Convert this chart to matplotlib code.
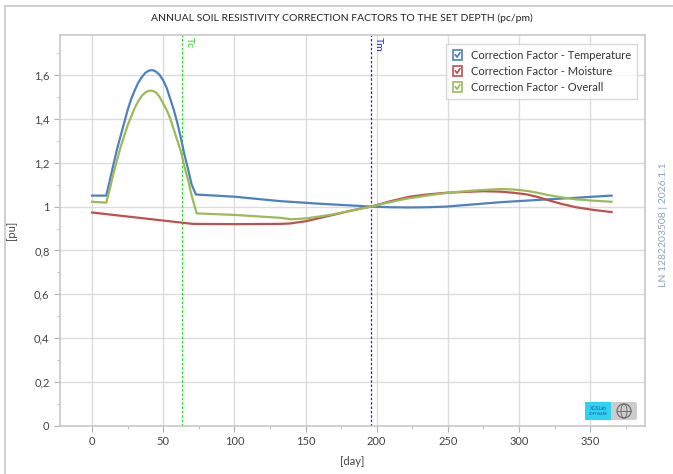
import numpy as np
import matplotlib
matplotlib.use("Agg")
import matplotlib.pyplot as plt
from matplotlib.patches import Rectangle, FancyBboxPatch, Ellipse
from matplotlib.lines import Line2D
from matplotlib.legend_handler import HandlerBase
from matplotlib.ticker import MultipleLocator, FuncFormatter

# values
temp_days = [0, 10, 12.5, 15, 17.5, 20, 22.5, 25, 27.5, 30, 32.5, 35, 37.5, 40, 42.5,
             45, 47.5, 50, 52.5, 55, 57.5, 60, 62.5, 65, 67.5, 70, 73,
             100, 132, 160, 196, 210, 223, 236, 249, 268, 287, 305, 320, 340, 352, 365]
temp_vals = [1.05, 1.05, 1.12, 1.19, 1.26, 1.32, 1.38, 1.44, 1.49, 1.53, 1.565, 1.59,
             1.61, 1.62, 1.622, 1.615, 1.60, 1.575, 1.54, 1.49, 1.44, 1.38, 1.31, 1.235,
             1.17, 1.10, 1.055, 1.045, 1.025, 1.013, 1.0, 0.997, 0.996, 0.997, 1.0, 1.01,
             1.02, 1.027, 1.033, 1.04, 1.045, 1.05]

moist_days = [0, 71, 100, 132, 139, 150, 160, 170, 179, 188, 196, 210, 223, 235, 249,
              262, 275, 287, 296, 305, 313, 320, 330, 340, 352, 365]
moist_vals = [0.973, 0.921, 0.92, 0.921, 0.923, 0.933, 0.948, 0.963, 0.977, 0.99, 1.0,
              1.025, 1.045, 1.055, 1.063, 1.067, 1.07, 1.068, 1.063, 1.056, 1.044, 1.03,
              1.012, 0.997, 0.985, 0.975]

overall_days = [0, 10, 12.5, 15, 17.5, 20, 22.5, 25, 27.5, 30, 32.5, 35, 37.5, 40, 42.5,
                45, 47.5, 50, 52.5, 55, 57.5, 60, 62.5, 65, 67.5, 70, 73.5,
                100, 132, 140, 150, 160, 167, 179, 188, 196, 208, 220, 235, 250, 268,
                287, 296, 305, 313, 320, 330, 340, 352, 365]
overall_vals = [1.022, 1.018, 1.08, 1.15, 1.21, 1.27, 1.32, 1.37, 1.41, 1.45, 1.48, 1.505,
                1.52, 1.528, 1.528, 1.52, 1.50, 1.47, 1.44, 1.40, 1.35, 1.30, 1.25, 1.18,
                1.12, 1.05, 0.969, 0.962, 0.949, 0.942, 0.946, 0.955, 0.962, 0.977, 0.989,
                1.0, 1.018, 1.035, 1.05, 1.063, 1.073, 1.08, 1.078, 1.072, 1.063, 1.053,
                1.042, 1.033, 1.027, 1.022]

tc_day = 63.5
tm_day = 196

labels = ["Correction Factor - Temperature", "Correction Factor - Moisture",
          "Correction Factor - Overall"]
colors = ["#4f81bd", "#c0504d", "#9bbb59"]

plt.rcParams['font.family'] = ['Lato', 'DejaVu Sans']

fig = plt.figure(figsize=(6.73, 4.74), dpi=100)
ax = fig.add_axes([60/673, 1-426/474, 585/673, 391/474])

for d, v, c, lab in zip([temp_days, moist_days, overall_days],
                        [temp_vals, moist_vals, overall_vals], colors, labels):
    ax.plot(d, v, color=c, lw=1.6, label=lab, solid_joinstyle='round', zorder=3)

ax.axvline(tc_day, color="#22dd22", lw=0.9, ls=(0, (2, 1.5)), zorder=2)
ax.axvline(tm_day, color="#2222ee", lw=0.9, ls=(0, (2, 1.5)), zorder=2)
ax.text(tc_day + 2, 1.775, "Tc", color="#22dd22", rotation=270, va="top", ha="left", fontsize=7.5)
ax.text(tm_day + 2, 1.775, "Tm", color="#2222ee", rotation=270, va="top", ha="left", fontsize=7.5)

ax.set_xlim(-22.5, 388.5)
ax.set_ylim(0, 1.782)
ax.xaxis.set_major_locator(MultipleLocator(50))
ax.xaxis.set_minor_locator(MultipleLocator(25))
ax.yaxis.set_major_locator(MultipleLocator(0.2))
ax.yaxis.set_minor_locator(MultipleLocator(0.1))
ax.yaxis.set_major_formatter(FuncFormatter(lambda v, p: ("%g" % round(v, 2)).replace(".", ",")))
ax.grid(True, which="major", color="#dcdcdc", lw=1.0)
ax.set_axisbelow(True)
for s in ax.spines.values():
    s.set_color("#c8c8c8")
    s.set_linewidth(1.2)
ax.tick_params(which="both", colors="#b0b0b0", labelcolor="#444444", labelsize=8)
ax.tick_params(which="major", length=4)
ax.tick_params(which="minor", length=2.5)
ax.set_xlabel("[day]", fontsize=8, color="#444444", labelpad=6)
ax.set_ylabel("[pu]", fontsize=8, color="#444444", labelpad=12)


class CheckHandler(HandlerBase):
    def create_artists(self, legend, orig_handle, xdescent, ydescent, width, height, fontsize, trans):
        c = orig_handle.get_color()
        s = height * 1.25
        x0 = width / 2 - s / 2 - xdescent
        y0 = height / 2 - s / 2 - ydescent
        box = Rectangle((x0, y0), s, s, facecolor="white", edgecolor=c, lw=1.2, transform=trans)
        chk = Line2D([x0 + s*0.28, x0 + s*0.45, x0 + s*0.74],
                     [y0 + s*0.52, y0 + s*0.3, y0 + s*0.72],
                     color=c, lw=1.3, transform=trans)
        return [box, chk]


leg = ax.legend(handler_map={Line2D: CheckHandler()}, loc="upper right", fontsize=8,
                frameon=True, fancybox=False, handlelength=1.0, handletextpad=0.7,
                borderpad=0.5, labelspacing=0.45, bbox_to_anchor=(0.995, 0.99))
leg.get_frame().set_edgecolor("#d0d0d0")
leg.get_frame().set_linewidth(1.0)
for t in leg.get_texts():
    t.set_color("#333333")

fig.text(342/673, 1-18/474, "ANNUAL SOIL RESISTIVITY CORRECTION FACTORS TO THE SET DEPTH (pc/pm)",
         ha="center", va="center", fontsize=7.5, color="#222222")
fig.text(663/673, 1-225/474, "LN 1282203508 | 2026.1.1", rotation=90, ha="center", va="center",
         fontsize=7.5, color="#8ea4ba")

# outer frame
fig.add_artist(Line2D([5/673, 5/673], [0, 1-6/474], color="#c8c8c8", lw=1.2))
fig.add_artist(Line2D([5/673, 1], [1-6/474, 1-6/474], color="#c8c8c8", lw=1.2))

# XGSLab badge
fig.add_artist(FancyBboxPatch((585/673, 1-420/474), 52/673, 18/474,
                              boxstyle="round,pad=0,rounding_size=0.004",
                              facecolor="#cccccc", edgecolor="none"))
fig.add_artist(Rectangle((585/673, 1-420/474), 26/673, 18/474, facecolor="#2fd3f0", edgecolor="none"))
fig.text(598/673, 1-408/474, "XGSLab", fontsize=3.5, color="#2255aa", ha="center", va="center")
fig.text(598/673, 1-414/474, "SOFTWARE", fontsize=2.5, color="#2255aa", ha="center", va="center")
gx, gy = 624/673, 1-411/474
fig.add_artist(Ellipse((gx, gy), 14/673, 14/474, facecolor="none", edgecolor="#666666", lw=0.8))
fig.add_artist(Ellipse((gx, gy), 6/673, 14/474, facecolor="none", edgecolor="#666666", lw=0.6))
fig.add_artist(Line2D([gx - 7/673, gx + 7/673], [gy, gy], color="#666666", lw=0.6))

fig.savefig("out.png", dpi=100)
